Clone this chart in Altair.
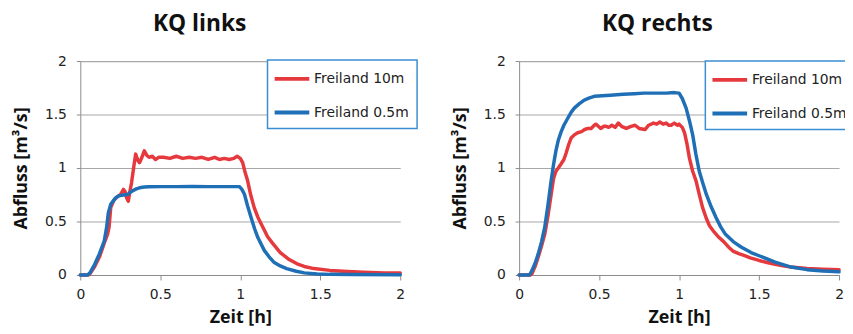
import altair as alt
import pandas as pd

SERIES = ["Freiland 10m", "Freiland 0.5m"]
COLORS = ["#e6393d", "#1f6fb6"]
TICKS = [0, 0.5, 1, 1.5, 2]

# KQ links
t_l_red = [0, 0.05, 0.06, 0.09, 0.12, 0.15, 0.17, 0.18, 0.19, 0.21, 0.23, 0.25, 0.27, 0.28, 0.29, 0.30,
           0.31, 0.32, 0.335, 0.346, 0.36, 0.37, 0.385, 0.40, 0.415, 0.43, 0.45, 0.47, 0.49, 0.52, 0.56,
           0.60, 0.64, 0.68, 0.72, 0.76, 0.80, 0.84, 0.87, 0.90, 0.93, 0.96, 0.98, 1.00, 1.015, 1.03,
           1.046, 1.065, 1.087, 1.11, 1.13, 1.15, 1.17, 1.20, 1.25, 1.30, 1.355, 1.40, 1.46, 1.56, 1.67,
           1.77, 1.90, 2.00]
q_l_red = [0, 0, 0.01, 0.08, 0.17, 0.30, 0.38, 0.45, 0.63, 0.70, 0.73, 0.75, 0.80, 0.78, 0.72, 0.69,
           0.78, 0.86, 1.02, 1.13, 1.07, 1.05, 1.10, 1.16, 1.12, 1.10, 1.11, 1.08, 1.10, 1.10, 1.09,
           1.11, 1.09, 1.10, 1.09, 1.10, 1.08, 1.10, 1.08, 1.09, 1.08, 1.09, 1.11, 1.09, 1.05, 0.96,
           0.88, 0.75, 0.63, 0.54, 0.48, 0.42, 0.36, 0.30, 0.21, 0.15, 0.105, 0.08, 0.06, 0.043, 0.033,
           0.027, 0.02, 0.018]
t_l_blue = [0, 0.045, 0.06, 0.09, 0.12, 0.15, 0.165, 0.175, 0.19, 0.21, 0.22, 0.24, 0.26, 0.28, 0.295,
            0.31, 0.325, 0.35, 0.37, 0.40, 0.43, 0.5, 0.6, 0.7, 0.8, 0.9, 0.995, 1.01, 1.026, 1.045,
            1.067, 1.09, 1.11, 1.13, 1.15, 1.18, 1.21, 1.25, 1.29, 1.35, 1.40, 1.48, 1.56, 1.70, 2.00]
q_l_blue = [0, 0, 0.02, 0.10, 0.20, 0.32, 0.45, 0.58, 0.66, 0.70, 0.72, 0.74, 0.745, 0.75, 0.752,
            0.77, 0.785, 0.805, 0.815, 0.822, 0.825, 0.826, 0.826, 0.827, 0.826, 0.826, 0.826, 0.80, 0.755, 0.65,
            0.54, 0.43, 0.35, 0.29, 0.23, 0.17, 0.12, 0.085, 0.06, 0.035, 0.02, 0.01, 0.006, 0.004, 0.003]

# KQ rechts
t_r_red = [0, 0.07, 0.08, 0.10, 0.12, 0.14, 0.16, 0.18, 0.20, 0.215, 0.23, 0.245, 0.263, 0.28, 0.294,
           0.31, 0.325, 0.345, 0.366, 0.39, 0.41, 0.43, 0.45, 0.47, 0.48, 0.495, 0.51, 0.53, 0.545, 0.56,
           0.58, 0.60, 0.62, 0.64, 0.67, 0.70, 0.725, 0.75, 0.787, 0.81, 0.84, 0.86, 0.88, 0.90, 0.92,
           0.935, 0.95, 0.97, 0.99, 1.00, 1.02, 1.034, 1.05, 1.065, 1.085, 1.106, 1.125, 1.147, 1.17,
           1.19, 1.22, 1.25, 1.28, 1.31, 1.34, 1.373, 1.41, 1.445, 1.50, 1.55, 1.60, 1.65, 1.70, 1.80,
           1.90, 2.00]
q_r_red = [0, 0, 0.01, 0.08, 0.17, 0.27, 0.38, 0.55, 0.75, 0.90, 0.97, 1.00, 1.04, 1.08, 1.14,
           1.22, 1.28, 1.31, 1.33, 1.34, 1.36, 1.37, 1.37, 1.40, 1.41, 1.39, 1.37, 1.39, 1.39, 1.38,
           1.40, 1.38, 1.42, 1.39, 1.37, 1.39, 1.40, 1.37, 1.36, 1.40, 1.42, 1.41, 1.43, 1.41, 1.42,
           1.40, 1.40, 1.42, 1.40, 1.41, 1.38, 1.33, 1.22, 1.09, 0.97, 0.88, 0.76, 0.63, 0.53,
           0.46, 0.40, 0.35, 0.31, 0.26, 0.22, 0.20, 0.18, 0.16, 0.136, 0.117, 0.10, 0.085, 0.074, 0.06,
           0.055, 0.05]
t_r_blue = [0, 0.065, 0.08, 0.10, 0.12, 0.14, 0.16, 0.18, 0.20, 0.215, 0.23, 0.245, 0.263, 0.28, 0.304,
            0.325, 0.345, 0.375, 0.407, 0.44, 0.47, 0.52, 0.57, 0.65, 0.72, 0.78, 0.85, 0.92, 0.97, 1.00,
            1.02, 1.044, 1.065, 1.085, 1.105, 1.126, 1.15, 1.17, 1.20, 1.23, 1.26, 1.29, 1.34, 1.39,
            1.45, 1.50, 1.55, 1.60, 1.70, 1.80, 1.90, 2.00]
q_r_blue = [0, 0, 0.04, 0.11, 0.20, 0.31, 0.445, 0.65, 0.88, 1.03, 1.16, 1.26, 1.34, 1.40, 1.465,
            1.52, 1.56, 1.60, 1.635, 1.655, 1.67, 1.675, 1.68, 1.69, 1.695, 1.70, 1.70, 1.70, 1.705, 1.70,
            1.65, 1.56, 1.44, 1.31, 1.13, 0.97, 0.85, 0.755, 0.64, 0.54, 0.45, 0.38, 0.31, 0.26,
            0.21, 0.18, 0.15, 0.12, 0.074, 0.05, 0.038, 0.03]


def frame(t_red, q_red, t_blue, q_blue):
    a = pd.DataFrame({"t": t_red, "q": q_red, "serie": SERIES[0], "o": range(len(t_red))})
    b = pd.DataFrame({"t": t_blue, "q": q_blue, "serie": SERIES[1], "o": range(len(t_blue))})
    return pd.concat([a, b], ignore_index=True)


def panel(df, title, dx, lx, ly):
    return alt.Chart(df).mark_line(strokeWidth=3.5, strokeJoin="round", strokeCap="round").encode(
        x=alt.X("t:Q", scale=alt.Scale(domain=[0, 2], nice=False),
                axis=alt.Axis(values=TICKS, title="Zeit [h]", grid=False, labelExpr="datum.value",
                              labelFlush=False, tickSize=5, labelPadding=8, titlePadding=7)),
        y=alt.Y("q:Q", scale=alt.Scale(domain=[0, 2], nice=False),
                axis=alt.Axis(values=TICKS, title="Abfluss [m³/s]", grid=True, labelExpr="datum.value",
                              labelFlush=False, tickSize=4, labelPadding=10, titlePadding=14)),
        color=alt.Color("serie:N", scale=alt.Scale(domain=SERIES, range=COLORS),
                        legend=alt.Legend(title=None, orient="none", legendX=lx, legendY=ly)),
        order=alt.Order("o:Q"),
    ).properties(
        width=323, height=216,
        title=alt.TitleParams(title, dx=dx, anchor="middle", offset=18),
    )


left = panel(frame(t_l_red, q_l_red, t_l_blue, q_l_blue), "KQ links", -41, 189, -1)
right = panel(frame(t_r_red, q_r_red, t_r_blue, q_r_blue), "KQ rechts", -22, 188, 0)

chart = alt.hconcat(left, right, spacing=33).resolve_legend(color="independent").configure_view(
    stroke=None
).configure_axis(
    labelFont="DejaVu Sans", labelFontSize=14, labelColor="#222222",
    titleFont="Open Sans", titleFontSize=18, titleFontWeight="bold", titleColor="#111111",
    domainColor="#8c8c8c", tickColor="#8c8c8c", gridColor="#a8a8a8", gridWidth=1.2,
).configure_title(
    font="Open Sans", fontSize=23, fontWeight="bold", color="#111111",
).configure_legend(
    labelFont="DejaVu Sans", labelFontSize=14, labelColor="#222222",
    symbolType="M-1.35,0L2.65,0", symbolSize=306, symbolStrokeWidth=4, labelOffset=17,
    strokeColor="#3a8fd4", fillColor="white", padding=8, rowPadding=15, strokeWidth=1.5,
).properties(
    autosize=alt.AutoSizeParams(type="none"),
    padding={"left": 73, "top": 51, "right": 772, "bottom": 267},
)

chart.save("out.html", embed_options={"renderer": "svg", "actions": False})
